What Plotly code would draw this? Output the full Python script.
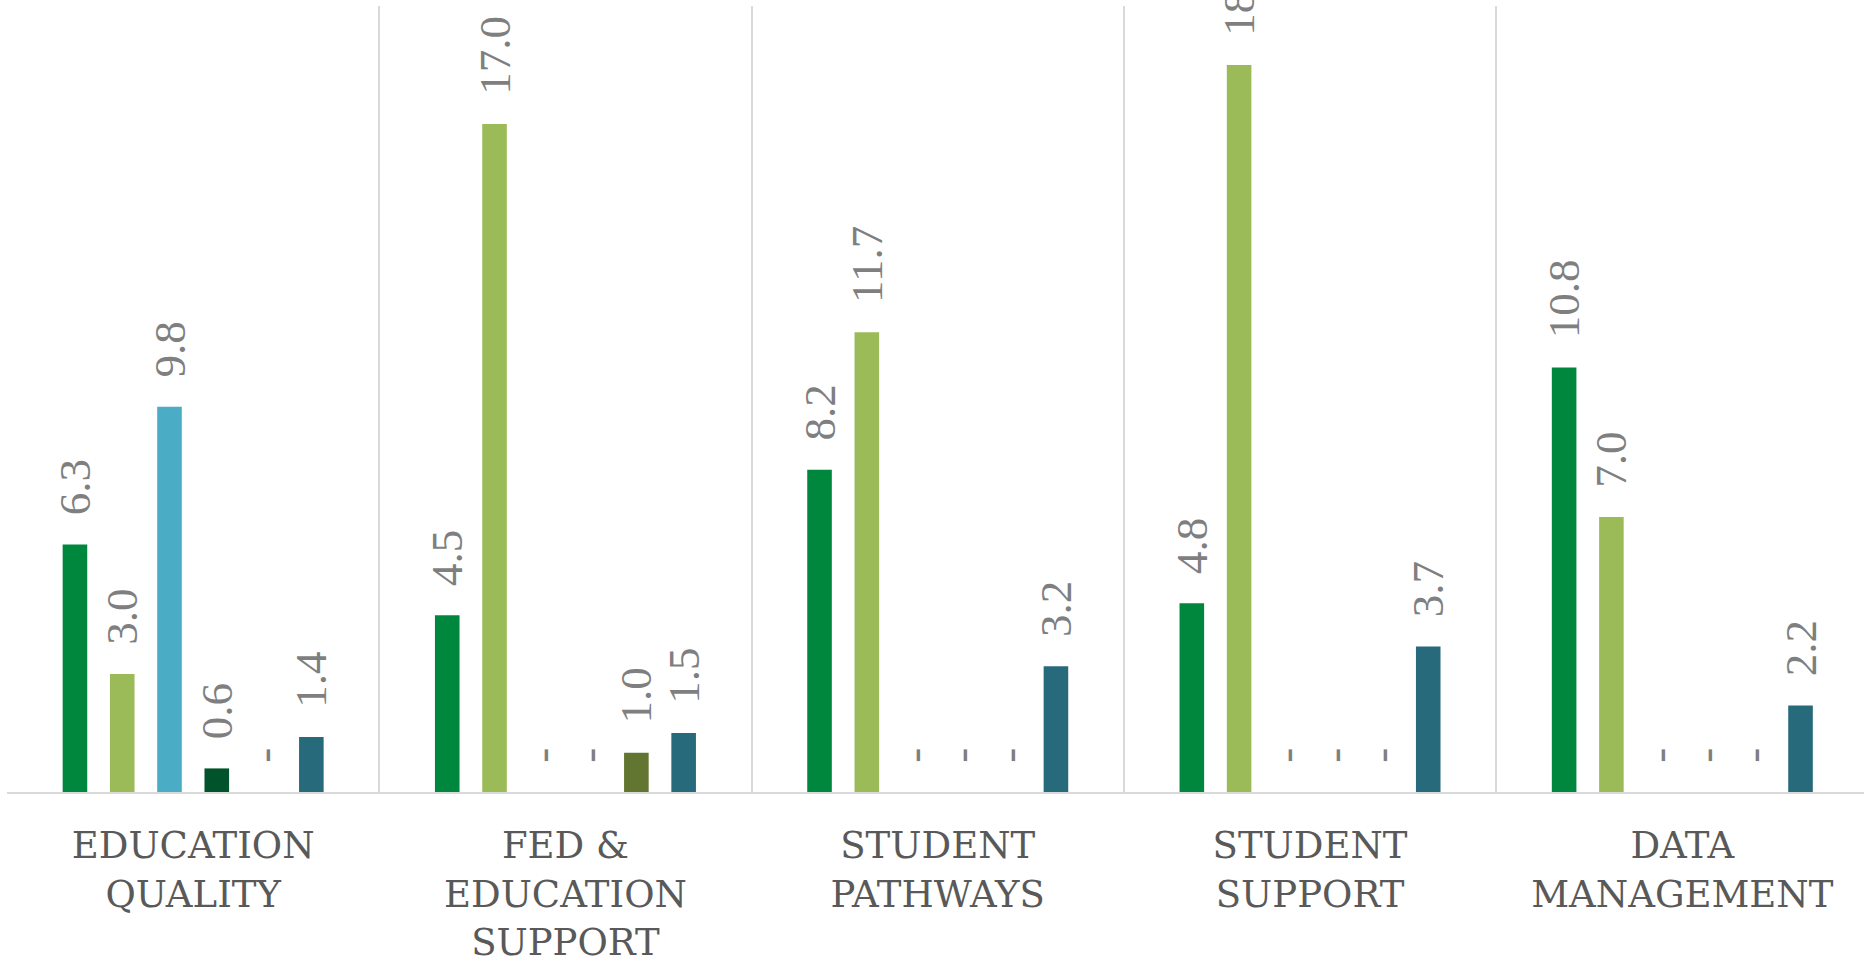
import plotly.graph_objects as go

categories = ["EDUCATION<br>QUALITY", "FED &<br>EDUCATION<br>SUPPORT", "STUDENT<br>PATHWAYS",
              "STUDENT<br>SUPPORT", "DATA<br>MANAGEMENT"]

series_1 = [6.3, 4.5, 8.2, 4.8, 10.8]
series_2 = [3.0, 17.0, 11.7, 18.5, 7.0]
series_3 = [9.8, 0.0, 0.0, 0.0, 0.0]
series_4 = [0.6, 0.0, 0.0, 0.0, 0.0]
series_5 = [0.0, 1.0, 0.0, 0.0, 0.0]
series_6 = [1.4, 1.5, 3.2, 3.7, 2.2]

series = [series_1, series_2, series_3, series_4, series_5, series_6]
colors = ["#00873E", "#9BBB59", "#4BACC6", "#00532A", "#627531", "#276A7C"]


def fmt(v):
    return "\u00a0\u00a0\u200a" + (f"{v:.1f}" if v != 0 else "-")


fig = go.Figure()
for i, (vals, col) in enumerate(zip(series, colors)):
    fig.add_trace(go.Bar(
        x=categories, y=vals, name=f"Series {i+1}",
        marker=dict(color=col, line=dict(width=0)),
        text=[fmt(v) for v in vals],
        textposition="outside", textangle=-90,
        constraintext="none", cliponaxis=False,
        textfont=dict(family="Liberation Serif", size=45, color="#7F7F7F"),
        hoverinfo="skip",
    ))

fig.update_layout(
    width=1864, height=962,
    barmode="group", bargap=0.238, bargroupgap=0.48,
    showlegend=False,
    plot_bgcolor="white", paper_bgcolor="white",
    margin=dict(l=7, r=0, t=6, b=170, autoexpand=False),
    xaxis=dict(
        range=[-0.5, 4.488], automargin=False,
        tickson="boundaries", ticks="",
        showgrid=True, gridcolor="#D9D9D9", gridwidth=2,
        showline=True, linecolor="#D9D9D9", linewidth=2,
        tickfont=dict(family="DejaVu Serif", size=37, color="#595959"),
        ticklabelstandoff=20,
    ),
    yaxis=dict(range=[0, 20], showgrid=False, zeroline=False, automargin=False,
               showticklabels=False, showline=False),
)

fig.write_html("out.html", config={"displayModeBar": False},
               post_script="document.body.style.margin='0';")
